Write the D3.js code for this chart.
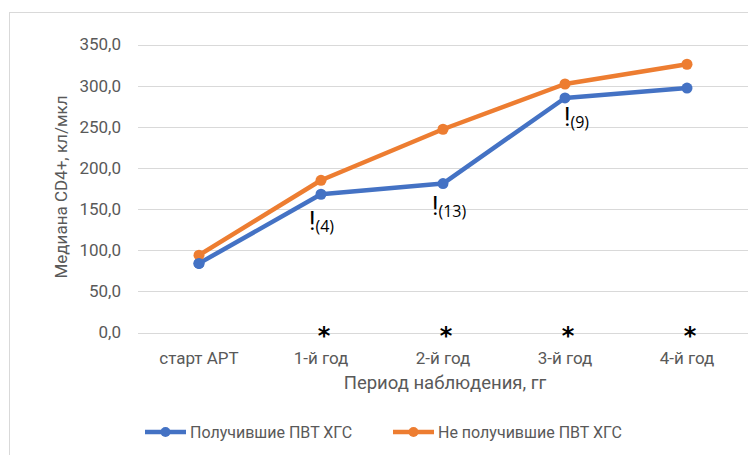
<!DOCTYPE html>
<html>
<head>
<meta charset="utf-8">
<script src="https://cdn.jsdelivr.net/npm/d3@7"></script>
<style>
  body { margin: 0; background: #fff; }
  svg text { font-family: Roboto, "Open Sans", sans-serif; fill: #595959; }
</style>
</head>
<body>
<div id="my_dataviz"></div>
<script>
// categories and series
const categories = ["старт АРТ", "1-й год", "2-й год", "3-й год", "4-й год"];
const treated = [84, 168, 181, 285, 297];       // Получившие ПВТ ХГС
const untreated = [94, 185, 247, 302, 326];     // Не получившие ПВТ ХГС
const seriesNames = ["Получившие ПВТ ХГС", "Не получившие ПВТ ХГС"];
const yTicks = [0, 50, 100, 150, 200, 250, 300, 350];
const notes = ["", "(4)", "(13)", "(9)", ""];     // "!" notes on blue series
const starred = [false, true, true, true, true];

const W = 748, H = 455;
const colors = ["#4472C4", "#ED7D31"];

const svg = d3.select("#my_dataviz").append("svg")
  .attr("width", W).attr("height", H);

// chart area frame (only top/left visible)
svg.append("rect")
  .attr("x", 9.5).attr("y", 12.5)
  .attr("width", 800).attr("height", 500)
  .attr("fill", "none").attr("stroke", "#d9d9d9");

const x = d3.scaleBand().domain(categories).range([138, 748]).padding(0);
const y = d3.scaleLinear().domain([0, 350]).range([332.5, 44.5]);
const cx = d => x(d) + x.bandwidth() / 2;

// grid
svg.append("g").selectAll("line").data(yTicks).join("line")
  .attr("x1", 138).attr("x2", 748)
  .attr("y1", d => Math.round(y(d)) + 0.5).attr("y2", d => Math.round(y(d)) + 0.5)
  .attr("stroke", "#d9d9d9").attr("stroke-width", 1);

// y labels
svg.append("g").selectAll("text").data(yTicks).join("text")
  .attr("x", 121).attr("y", d => y(d))
  .attr("dy", "0.35em").attr("text-anchor", "end")
  .style("font-size", "17px")
  .text(d => d3.format(".1f")(d).replace(".", ","));

// x labels
svg.append("g").selectAll("text").data(categories).join("text")
  .attr("x", d => cx(d)).attr("y", 364)
  .attr("text-anchor", "middle")
  .style("font-size", "17px")
  .text(d => d);

// axis titles
svg.append("text")
  .attr("transform", "translate(67,187) rotate(-90)")
  .attr("text-anchor", "middle")
  .style("font-size", "17px")
  .text("Медиана CD4+, кл/мкл");

svg.append("text")
  .attr("x", 445).attr("y", 389)
  .attr("text-anchor", "middle")
  .style("font-size", "18.5px")
  .text("Период наблюдения, гг");

// lines
const line = d3.line().x((d, i) => cx(categories[i])).y(d => y(d));
[treated, untreated].forEach((vals, k) => {
  const g = svg.append("g");
  g.append("path").datum(vals)
    .attr("d", line)
    .attr("fill", "none").attr("stroke", colors[k])
    .attr("stroke-width", 4.5).attr("stroke-linejoin", "round");
  g.selectAll("circle").data(vals).join("circle")
    .attr("cx", (d, i) => cx(categories[i])).attr("cy", d => y(d))
    .attr("r", 5.5).attr("fill", colors[k]);
});
// blue start point sits over orange line like reference
svg.append("g").selectAll("circle").data(treated.slice(0, 1)).join("circle")
  .attr("cx", cx(categories[0])).attr("cy", d => y(d))
  .attr("r", 5.5).attr("fill", colors[0]);

// "!" annotations
const noteShift = [[0, 0], [-12, 36], [-11, 31], [-1, 28], [0, 0]];
notes.forEach((n, i) => {
  if (!n) return;
  const px = cx(categories[i]) + noteShift[i][0];
  const py = y(treated[i]) + noteShift[i][1];
  const t = svg.append("text").attr("x", px).attr("y", py)
    .style("fill", "#000");
  t.append("tspan").style("font-size", "25px").text("!");
  t.append("tspan").attr("dy", 2).style("font-size", "16px")
    .style("font-family", "'Open Sans', sans-serif").text(n);
});

// significance stars
svg.append("g").selectAll("text").data(categories.filter((c, i) => starred[i])).join("text")
  .attr("x", d => cx(d) + 3).attr("y", 344)
  .attr("text-anchor", "middle")
  .style("font-size", "24px").style("font-weight", "bold")
  .style("font-family", "'DejaVu Sans', sans-serif")
  .style("fill", "#000")
  .text("*");

// legend
const legendX = [145, 393];
seriesNames.forEach((name, k) => {
  const g = svg.append("g").attr("transform", `translate(${legendX[k]},432)`);
  g.append("line").attr("x1", 0).attr("x2", 41).attr("y1", 0).attr("y2", 0)
    .attr("stroke", colors[k]).attr("stroke-width", 4.5);
  g.append("circle").attr("cx", 20.5).attr("cy", 0).attr("r", 5).attr("fill", colors[k]);
  g.append("text").attr("x", 45).attr("y", 0).attr("dy", "0.35em")
    .style("font-size", "16px").text(name);
});
</script>
</body>
</html>
